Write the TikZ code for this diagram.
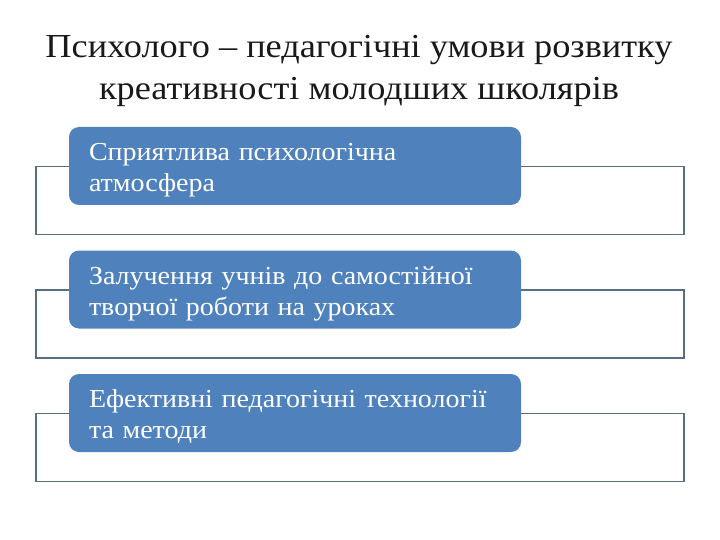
\documentclass[tikz,border=0pt]{standalone}
\usepackage{fontspec}
\setmainfont{Liberation Serif}[FakeStretch=1.08]
\usepackage{tikz}
\usetikzlibrary{positioning}
\usepackage{xcolor}
\definecolor{boxblue}{rgb}{0.31, 0.51, 0.74}
\definecolor{framegrey}{rgb}{0.35, 0.43, 0.52}
\definecolor{titleblack}{rgb}{0.1, 0.1, 0.1}

\begin{document}
\begin{tikzpicture}[x=1pt,y=-1pt]
        \tikzstyle{frame}=[rectangle, draw=framegrey, line width=1.8pt, fill=white, minimum width=648pt, minimum height=68pt, inner sep=0pt]
        \tikzstyle{bluebox}=[rectangle, rounded corners=10pt, fill=boxblue, minimum width=452pt, minimum height=78pt, inner sep=0pt]
        \tikzstyle{boxtext}=[text=white, text width=414pt, inner sep=0pt, align=left, font=\fontsize{25.9}{31}\selectfont]
        \useasboundingbox (0,0) rectangle (720,540);

        % Title
        \node[titleblack, align=center, font=\fontsize{33.6}{42}\selectfont] (title) at (359,71) {Психолого -- педагогічні умови розвитку\\креативності молодших школярів};

        % First condition
        \node[frame] (frame1) at (360,200.5) {};
        \node[bluebox] (box1) at (295,166) {};
        \node[boxtext, right=20pt of box1.west, yshift=-4pt] (text1) {Сприятлива психологічна\\атмосфера};

        % Second condition
        \node[frame] (frame2) at (360,324) {};
        \node[bluebox] (box2) at (295,289.5) {};
        \node[boxtext, right=20pt of box2.west, yshift=-4pt] (text2) {Залучення учнів до самостійної\\творчої роботи на уроках};

        % Third condition
        \node[frame] (frame3) at (360,447.5) {};
        \node[bluebox] (box3) at (295,413) {};
        \node[boxtext, right=20pt of box3.west, yshift=-4pt] (text3) {Ефективні педагогічні технології\\та методи};
    \end{tikzpicture}
\end{document}
